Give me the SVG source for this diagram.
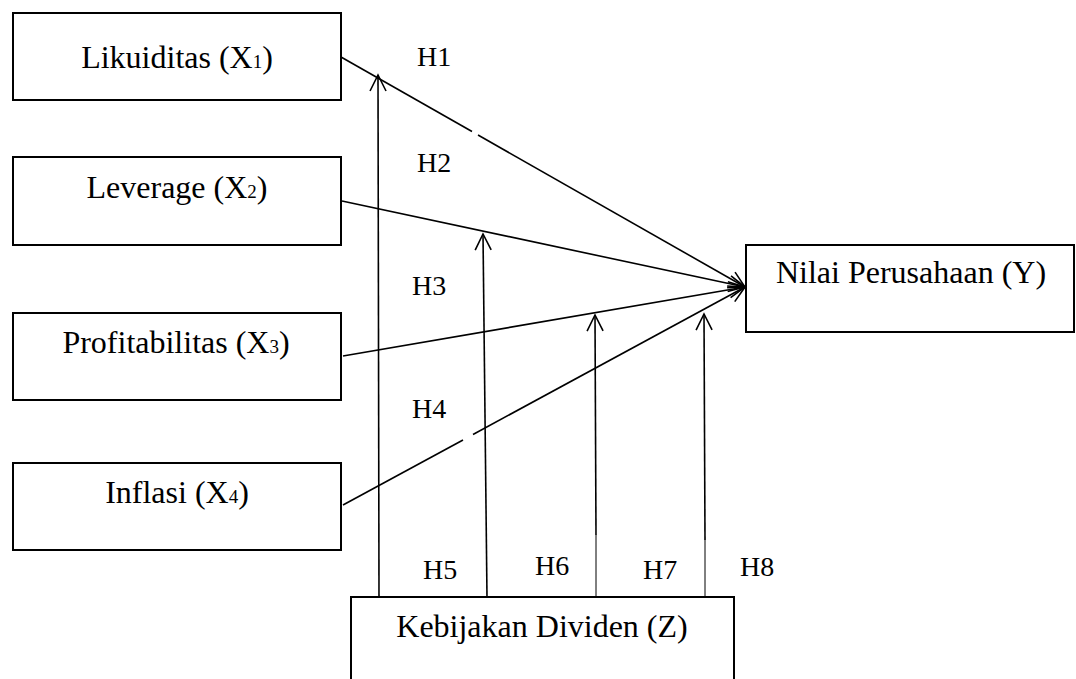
<svg xmlns="http://www.w3.org/2000/svg" width="1076" height="679" viewBox="0 0 1076 679">
<style>
.box{fill:#fff;stroke:#000;stroke-width:2}
text{font-family:'Liberation Serif','Times New Roman','DejaVu Serif',serif;fill:#000}
.lbl{font-size:32px;text-anchor:middle}
.sub{font-size:19px}
.h{font-size:28px}
.ln{fill:none;stroke:#000;stroke-width:1.6}
.thin{fill:none;stroke:#000;stroke-width:1}
</style>
<defs>
<marker id="arr" markerUnits="userSpaceOnUse" markerWidth="24" markerHeight="24" viewBox="-20 -12 24 24" refX="0" refY="0" orient="auto">
<path d="M-16,-8 L0,0 L-16,8" fill="none" stroke="#000" stroke-width="1.6"/>
</marker>
</defs>
<rect width="1076" height="679" fill="#fff"/>
<g id="x1"><rect class="box" x="13" y="13" width="328" height="87"/><text class="lbl" x="177" y="68" font-family="Liberation Serif, serif">Likuiditas (X<tspan class="sub">1</tspan>)</text></g>
<g id="x2"><rect class="box" x="13" y="157" width="328" height="88"/><text class="lbl" x="177" y="198" font-family="Liberation Serif, serif">Leverage (X<tspan class="sub">2</tspan>)</text></g>
<g id="x3"><rect class="box" x="13" y="313" width="328" height="87"/><text class="lbl" x="176" y="353" font-family="Liberation Serif, serif">Profitabilitas (X<tspan class="sub">3</tspan>)</text></g>
<g id="x4"><rect class="box" x="13" y="463" width="328" height="87"/><text class="lbl" x="177" y="503" font-family="Liberation Serif, serif">Inflasi (X<tspan class="sub">4</tspan>)</text></g>
<g id="y"><rect class="box" x="746" y="245" width="328" height="87"/><text class="lbl" x="911" y="283" font-family="Liberation Serif, serif">Nilai Perusahaan (Y)</text></g>
<g id="z"><rect class="box" x="351" y="597" width="383" height="90"/><text class="lbl" x="542" y="637" font-family="Liberation Serif, serif">Kebijakan Dividen (Z)</text></g>
<g id="connectors">
<path class="ln" d="M341,57 L472,131.5"/>
<path class="ln" d="M478,135 L745,287" marker-end="url(#arr)"/>
<path class="ln" d="M342,201 L745,287" marker-end="url(#arr)"/>
<path class="ln" d="M343,356 L745,287" marker-end="url(#arr)"/>
<path class="ln" d="M343,505 L463,440"/>
<path class="ln" d="M473,434.5 L745,287" marker-end="url(#arr)"/>
<path class="ln" d="M379,597 L378,75" marker-end="url(#arr)"/>
<path class="ln" d="M487,597 L483,234" marker-end="url(#arr)"/>
<path class="thin" d="M596,597 L596,535"/>
<path class="ln" d="M596,535 L595,315" marker-end="url(#arr)"/>
<path class="thin" d="M705,597 L705,540"/>
<path class="ln" d="M705,540 L704,314" marker-end="url(#arr)"/>
</g>
<g id="labels">
<text class="h" x="417" y="66">H1</text>
<text class="h" x="417" y="172">H2</text>
<text class="h" x="412" y="295">H3</text>
<text class="h" x="412" y="418">H4</text>
<text class="h" x="423" y="579">H5</text>
<text class="h" x="535" y="575">H6</text>
<text class="h" x="643" y="579">H7</text>
<text class="h" x="740" y="576">H8</text>
</g>
</svg>
